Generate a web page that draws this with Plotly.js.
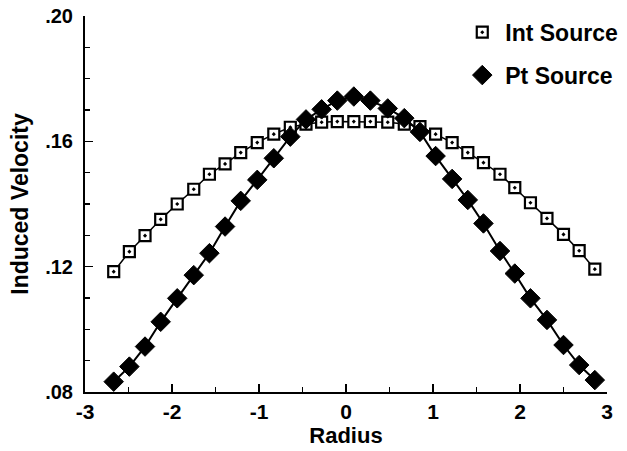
<!DOCTYPE html>
<html>
<head>
<meta charset="utf-8">
<script src="https://cdn.plot.ly/plotly-3.0.1.min.js"></script>
<style>
  html, body { margin: 0; padding: 0; background: #fff; }
  #chart { width: 627px; height: 451px; }
</style>
</head>
<body>
<div id="chart"></div>
<script>
// Data
const radius = [-2.67, -2.49, -2.31, -2.13, -1.94, -1.75, -1.57, -1.39, -1.21, -1.02,
                -0.83, -0.64, -0.46, -0.28, -0.10, 0.09, 0.28, 0.48, 0.67, 0.85,
                1.03, 1.22, 1.40, 1.58, 1.77, 1.94, 2.12, 2.31, 2.50, 2.68, 2.86];
const intSource = [0.1184, 0.1248, 0.1299, 0.1351, 0.1400, 0.1447, 0.1495, 0.1528, 0.1564, 0.1596,
                   0.1623, 0.1645, 0.1655, 0.1661, 0.1663, 0.1663, 0.1663, 0.1661, 0.1655, 0.1647,
                   0.1623, 0.1596, 0.1564, 0.1532, 0.1495, 0.1452, 0.1404, 0.1354, 0.1303, 0.1251, 0.1192];
const ptSource = [0.0833, 0.0881, 0.0945, 0.1024, 0.1099, 0.1173, 0.1243, 0.1328, 0.1410, 0.1477,
                  0.1546, 0.1615, 0.1670, 0.1702, 0.1730, 0.1743, 0.1730, 0.1705, 0.1674, 0.1630,
                  0.1553, 0.1480, 0.1413, 0.1338, 0.1250, 0.1178, 0.1099, 0.1030, 0.0950, 0.0886, 0.0838];
const seriesNames = ["Int Source", "Pt Source"];
const xTickVals = [-3, -2, -1, 0, 1, 2, 3];
const xTickText = ["-3", "-2", "-1", "0", "1", "2", "3"];
const yTickVals = [0.08, 0.12, 0.16, 0.20];
const yTickText = [".08", ".12", ".16", ".20"];
const xTitle = "Radius";
const yTitle = "Induced Velocity";

const FAMILY = "Liberation Sans, Arial, Helvetica, sans-serif";

const traces = [
  { x: radius, y: intSource, mode: "lines", showlegend: false, legendgroup: "a",
    line: { color: "#000", width: 1.5 }, cliponaxis: false, hoverinfo: "skip" },
  { x: radius, y: intSource, mode: "markers", name: seriesNames[0], legendgroup: "a",
    marker: { symbol: "square-dot", size: 11, color: "#fff", line: { color: "#000", width: 2.2 } },
    cliponaxis: false },
  { x: radius, y: ptSource, mode: "lines", showlegend: false, legendgroup: "b",
    line: { color: "#000", width: 2 }, cliponaxis: false, hoverinfo: "skip" },
  { x: radius, y: ptSource, mode: "markers", name: seriesNames[1], legendgroup: "b",
    marker: { symbol: "diamond", size: 15, color: "#000", line: { color: "#000", width: 1 } },
    cliponaxis: false }
];

const axisCommon = {
  showgrid: false, zeroline: false, showline: true, linecolor: "#000", linewidth: 2,
  ticks: "inside", ticklen: 8, tickwidth: 1.5, tickcolor: "#000", mirror: false
};

const layout = {
  width: 627, height: 451,
  margin: { l: 85, r: 20, t: 16, b: 59, autoexpand: false },
  paper_bgcolor: "#fff", plot_bgcolor: "#fff",
  font: { family: FAMILY, color: "#000", weight: "bold" },
  showlegend: true,
  legend: {
    x: 0.717, y: 1.014, xanchor: "left", yanchor: "top",
    bgcolor: "rgba(0,0,0,0)", traceorder: "grouped", tracegroupgap: 10,
    itemwidth: 36,
    font: { family: FAMILY, size: 23, color: "#000", weight: "bold" }
  },
  xaxis: Object.assign({}, axisCommon, {
    range: [-3, 3], tickvals: xTickVals, ticktext: xTickText,
    tickfont: { family: FAMILY, size: 21, color: "#000", weight: "bold" },
    minor: { dtick: 0.5, ticks: "inside", ticklen: 5, tickwidth: 1.5, tickcolor: "#000", showgrid: false },
    title: { text: xTitle, font: { family: FAMILY, size: 22, color: "#000", weight: "bold" }, standoff: 4 }
  }),
  yaxis: Object.assign({}, axisCommon, {
    range: [0.08, 0.20], tickvals: yTickVals, ticktext: yTickText,
    tickfont: { family: FAMILY, size: 20, color: "#000", weight: "bold" },
    ticklabelstandoff: 6,
    minor: { dtick: 0.01, ticks: "inside", ticklen: 5, tickwidth: 1.5, tickcolor: "#000", showgrid: false },
    title: { text: yTitle, font: { family: FAMILY, size: 23, color: "#000", weight: "bold" } }
  })
};

Plotly.newPlot("chart", traces, layout, { staticPlot: true, displayModeBar: false });
</script>
</body>
</html>
